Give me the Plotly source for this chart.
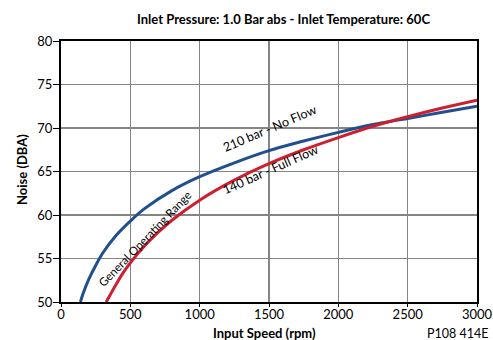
import plotly.graph_objects as go

# Data
speed_210 = [140, 160, 200, 250, 300, 400, 500, 600, 800, 1000, 1250, 1500, 1750, 2000, 2250, 2500, 2750, 3000]
noise_210 = [50.0, 51.0, 52.6, 54.2, 55.6, 57.7, 59.3, 60.7, 62.8, 64.4, 66.0, 67.4, 68.5, 69.5, 70.4, 71.1, 71.8, 72.5]

speed_140 = [326, 350, 400, 450, 500, 600, 700, 800, 1000, 1250, 1500, 1750, 2000, 2250, 2500, 2750, 3000]
noise_140 = [50.0, 50.7, 52.1, 53.4, 54.5, 56.4, 58.0, 59.4, 61.7, 64.0, 65.9, 67.5, 68.9, 70.2, 71.3, 72.3, 73.2]

x_ticks = [0, 500, 1000, 1500, 2000, 2500, 3000]
y_ticks = [50, 55, 60, 65, 70, 75, 80]

FONT = "Lato"
BLUE = "#1f4f8f"
RED = "#cc1f2f"

W, H = 493, 340
L, R, T, B = 61, 16, 41, 38
PW, PH = W - L - R, H - T - B


def px(xp):
    return (xp - L) / PW


def py(yp):
    return (H - B - yp) / PH


fig = go.Figure()
fig.add_trace(go.Scatter(x=speed_210, y=noise_210, mode="lines", line=dict(color=BLUE, width=3, shape="spline"), showlegend=False, hoverinfo="skip"))
fig.add_trace(go.Scatter(x=speed_140, y=noise_140, mode="lines", line=dict(color=RED, width=3, shape="spline"), showlegend=False, hoverinfo="skip"))

fig.update_layout(
    width=W, height=H,
    margin=dict(l=L, r=R, t=T, b=B, autoexpand=False),
    paper_bgcolor="white", plot_bgcolor="white",
    font=dict(family=FONT, color="black"),
)
fig.update_xaxes(range=[0, 3000], tickvals=x_ticks, showgrid=True, gridcolor="#858585", gridwidth=1.3,
                 showline=True, linecolor="black", linewidth=2, mirror=True, automargin=False,
                 ticks="outside", ticklen=3, tickcolor="black", tickfont=dict(size=13),
                 ticklabelstandoff=-4, zeroline=False)
fig.update_yaxes(range=[50, 80], tickvals=y_ticks, showgrid=True, gridcolor="#858585", gridwidth=1.3,
                 showline=True, linecolor="black", linewidth=2, mirror=True, automargin=False,
                 ticks="outside", ticklen=6, tickcolor="black", tickfont=dict(size=13),
                 ticklabelstandoff=-2, zeroline=False)

fig.add_annotation(xref="paper", yref="paper", x=px(283.5), y=py(19),
                   text="<b>Inlet Pressure: 1.0 Bar abs - Inlet Temperature: 60C</b>", showarrow=False,
                   xanchor="center", yanchor="middle", font=dict(size=13, family=FONT))
fig.add_annotation(xref="paper", yref="paper", x=px(264), y=py(333),
                   text="<b>Input Speed (rpm)</b>", showarrow=False,
                   xanchor="center", yanchor="middle", font=dict(size=13, family=FONT))
fig.add_annotation(xref="paper", yref="paper", x=px(22), y=py(170),
                   text="<b>Noise (DBA)</b>", showarrow=False, textangle=-90,
                   xanchor="center", yanchor="middle", font=dict(size=13, family=FONT))
fig.add_annotation(xref="paper", yref="paper", x=px(490), y=py(333), text="P108 414E", showarrow=False,
                   xanchor="right", yanchor="middle", font=dict(size=12.5, family=FONT))

fig.add_annotation(x=1504, y=69.9, text="210 bar - No Flow", textangle=-23, showarrow=False,
                   font=dict(size=12.5, family=FONT))
fig.add_annotation(x=1511, y=65.2, text="140 bar - Full Flow", textangle=-24, showarrow=False,
                   font=dict(size=12.5, family=FONT))
fig.add_annotation(x=605, y=57.3, text="General Operating Range", textangle=-46, showarrow=False,
                   font=dict(size=11.5, family=FONT))

fig.write_html("out.html", config={"displayModeBar": False, "staticPlot": True},
               post_script="document.body.style.margin='0';document.body.style.overflow='hidden';")
